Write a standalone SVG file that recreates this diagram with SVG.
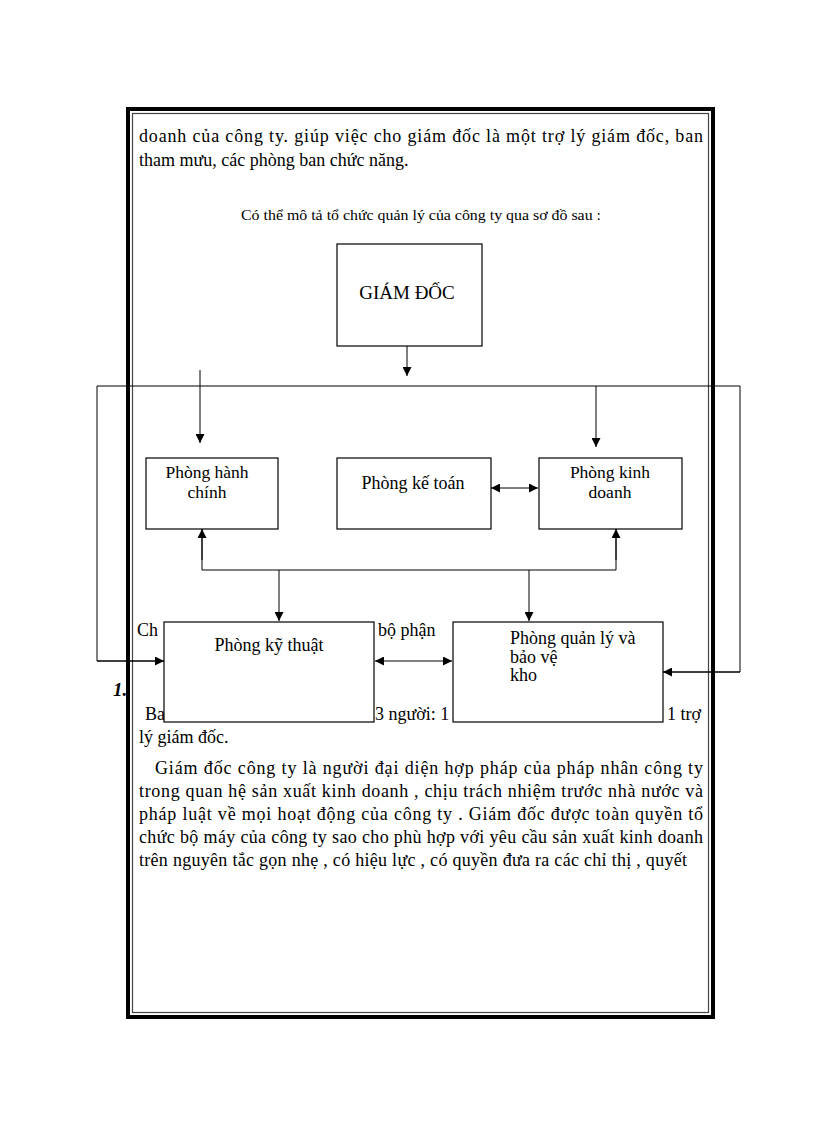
<svg xmlns="http://www.w3.org/2000/svg" width="816" height="1123" viewBox="0 0 816 1123">
<defs>
<marker id="ah" viewBox="0 0 10 10" refX="10" refY="5" markerWidth="9" markerHeight="9" markerUnits="userSpaceOnUse" orient="auto-start-reverse">
<path d="M0,0 L10,5 L0,10 z" fill="#000"/>
</marker>
<style>
.body{font-family:"Liberation Serif","Times New Roman",serif;font-size:18px;fill:#000}
.lbl{font-family:"Liberation Serif","Times New Roman",serif;font-size:18px;fill:#000}
.box{fill:#fff;stroke:#000;stroke-width:1.2}
.ln{fill:none;stroke:#000;stroke-width:1}
</style>
</defs>
<rect width="816" height="1123" fill="#fff"/>
<g id="page-border">
<rect x="128" y="109" width="585" height="908" fill="none" stroke="#000" stroke-width="4"/>
<rect x="132.5" y="113.5" width="576" height="899" fill="none" stroke="#444" stroke-width="1.2"/>
</g>
<g id="text">
<text class="body" x="139" y="142" textLength="564" lengthAdjust="spacing">doanh của công ty. giúp việc cho giám đốc là một trợ lý giám đốc, ban</text>
<text class="body" x="139" y="166">tham mưu, các phòng ban chức năng.</text>
<text class="body" x="241" y="220" style="font-size:14px" textLength="360" lengthAdjust="spacingAndGlyphs">Có thể mô tả tổ chức quản lý của công ty qua sơ đồ sau :</text>
<text class="body" x="137" y="636">Ch</text>
<text class="body" x="378" y="636">bộ phận</text>
<text class="body" x="113" y="696" style="font-weight:bold;font-style:italic;font-size:19px">1.</text>
<text class="body" x="145" y="720">Ba</text>
<text class="body" x="375" y="720">3 người: 1</text>
<text class="body" x="667" y="720">1 trợ</text>
<text class="body" x="139" y="743">lý giám đốc.</text>
<text class="body" x="155" y="774" textLength="548" lengthAdjust="spacing">Giám đốc công ty là người đại diện hợp pháp của pháp nhân công ty</text>
<text class="body" x="139" y="797" textLength="564" lengthAdjust="spacing">trong quan hệ sản xuất kinh doanh , chịu trách nhiệm trước nhà nước và</text>
<text class="body" x="139" y="820" textLength="564" lengthAdjust="spacing">pháp luật về mọi hoạt động của công ty . Giám đốc được toàn quyền tổ</text>
<text class="body" x="139" y="843" textLength="564" lengthAdjust="spacing">chức bộ máy của công ty sao cho phù hợp với yêu cầu sản xuất kinh doanh</text>
<text class="body" x="139" y="866" textLength="548" lengthAdjust="spacing">trên nguyên tắc gọn nhẹ , có hiệu lực , có quyền đưa ra các chỉ thị , quyết</text>
</g>
<g id="connectors">
<line class="ln" x1="407" y1="346" x2="407" y2="376" marker-end="url(#ah)"/>
<polyline class="ln" points="164,661 97,661 97,386 740,386 740,672 663,672" />
<line class="ln" x1="97" y1="661" x2="164" y2="661" marker-end="url(#ah)"/>
<line class="ln" x1="740" y1="672" x2="663" y2="672" marker-end="url(#ah)"/>
<line class="ln" x1="200" y1="370" x2="200" y2="443" marker-end="url(#ah)"/>
<line class="ln" x1="596" y1="386" x2="596" y2="447" marker-end="url(#ah)"/>
<line class="ln" x1="491" y1="488" x2="538" y2="488" marker-start="url(#ah)" marker-end="url(#ah)"/>
<polyline class="ln" points="202,529 202,570 616,570 616,529"/>
<line class="ln" x1="202" y1="560" x2="202" y2="529" marker-end="url(#ah)"/>
<line class="ln" x1="616" y1="560" x2="616" y2="529" marker-end="url(#ah)"/>
<line class="ln" x1="279" y1="570" x2="279" y2="621" marker-end="url(#ah)"/>
<line class="ln" x1="529" y1="570" x2="529" y2="621" marker-end="url(#ah)"/>
<line class="ln" x1="375" y1="661" x2="452" y2="661" marker-start="url(#ah)" marker-end="url(#ah)"/>
</g>
<g id="giam-doc">
<rect class="box" x="337" y="244" width="145" height="102"/>
<text class="lbl" x="407" y="299" text-anchor="middle" style="font-size:19px">GIÁM ĐỐC</text>
</g>
<g id="phong-hanh-chinh">
<rect class="box" x="146" y="458" width="132" height="71"/>
<text class="lbl" x="207" y="478" text-anchor="middle" style="font-size:17.5px">Phòng hành</text>
<text class="lbl" x="207" y="498" text-anchor="middle" style="font-size:17.5px">chính</text>
</g>
<g id="phong-ke-toan">
<rect class="box" x="337" y="458" width="154" height="71"/>
<text class="lbl" x="413" y="489" text-anchor="middle">Phòng kế toán</text>
</g>
<g id="phong-kinh-doanh">
<rect class="box" x="539" y="458" width="143" height="71"/>
<text class="lbl" x="610" y="478" text-anchor="middle" style="font-size:17.5px">Phòng kinh</text>
<text class="lbl" x="610" y="498" text-anchor="middle" style="font-size:17.5px">doanh</text>
</g>
<g id="phong-ky-thuat">
<rect class="box" x="164" y="622" width="210" height="100"/>
<text class="lbl" x="269" y="651" text-anchor="middle">Phòng kỹ thuật</text>
</g>
<g id="phong-quan-ly">
<rect class="box" x="453" y="622" width="210" height="100"/>
<text class="lbl" x="510" y="644">Phòng quản lý và</text>
<text class="lbl" x="510" y="663">bảo vệ</text>
<text class="lbl" x="510" y="681">kho</text>
</g>
</svg>
